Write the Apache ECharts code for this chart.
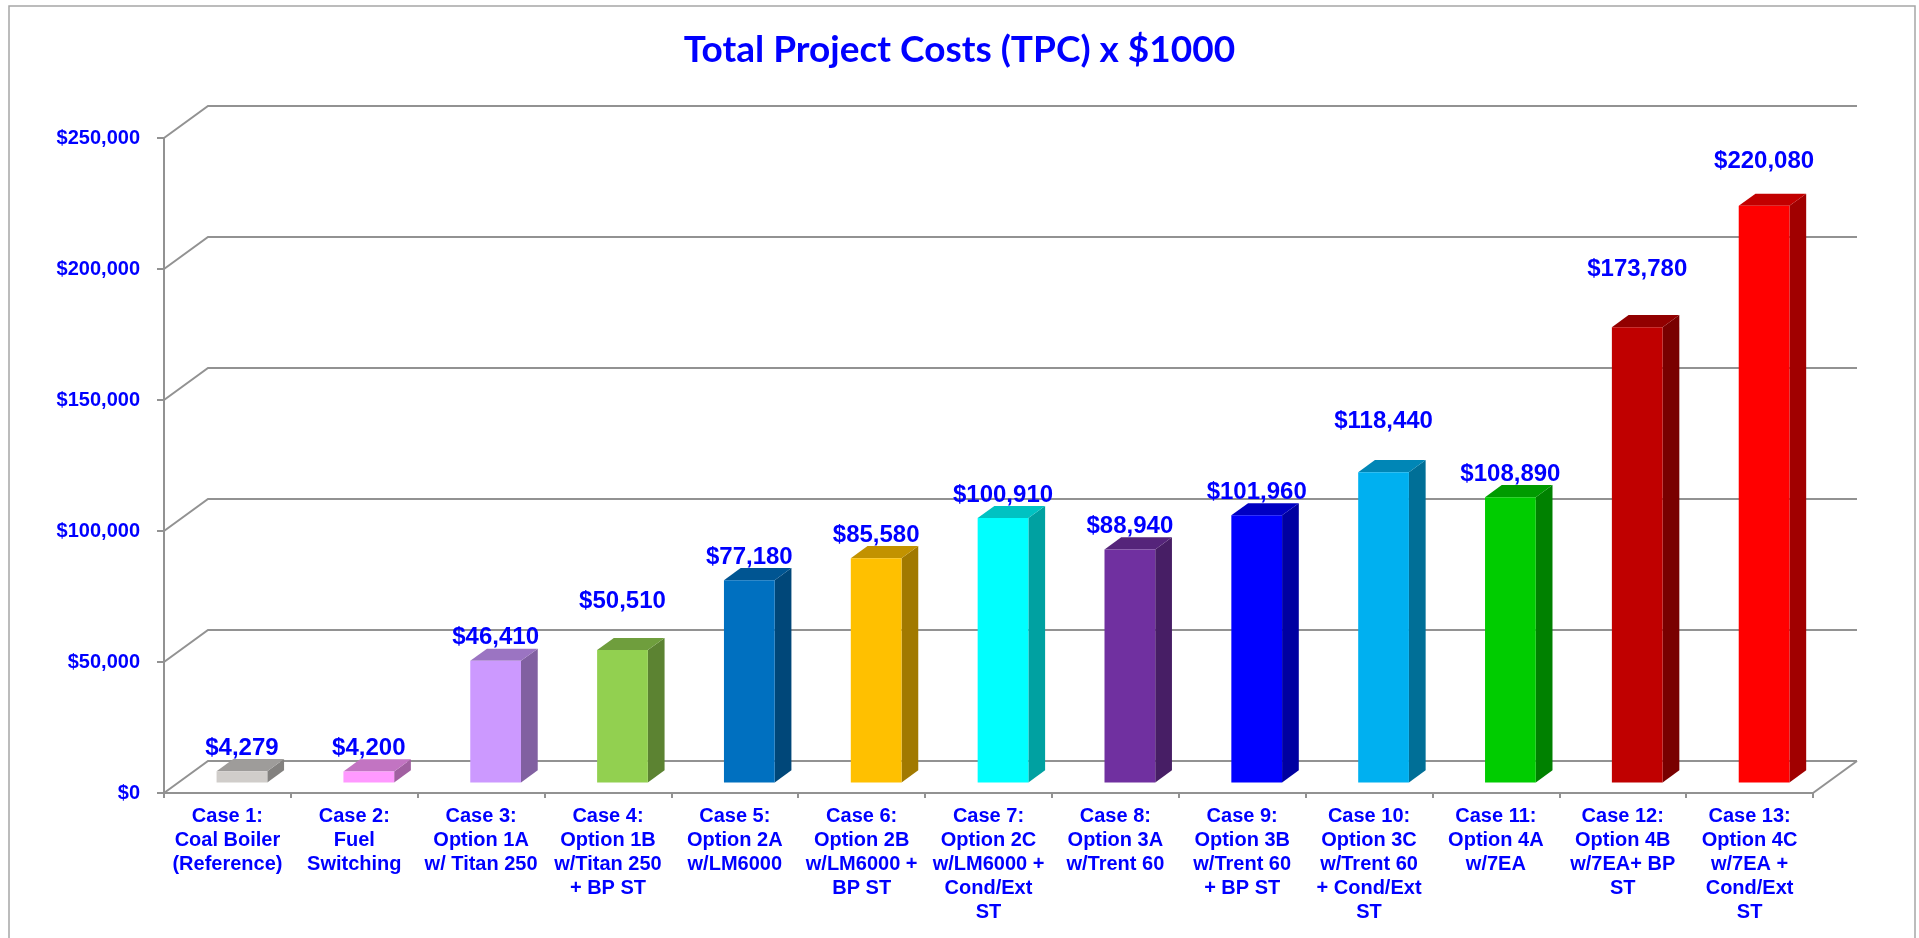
<!DOCTYPE html>
<html><head><meta charset="utf-8">
<script src="https://cdn.jsdelivr.net/npm/echarts@6/dist/echarts.min.js"></script>
<style>html,body{margin:0;padding:0;background:#fff}#c{width:1919px;height:938px}</style>
</head><body><div id="c"></div>
<script>
// ---------- data ----------
const categories = [
  'Case 1:\nCoal Boiler\n(Reference)',
  'Case 2:\nFuel\nSwitching',
  'Case 3:\nOption 1A\nw/ Titan 250',
  'Case 4:\nOption 1B\nw/Titan 250\n+ BP ST',
  'Case 5:\nOption 2A\nw/LM6000',
  'Case 6:\nOption 2B\nw/LM6000 +\nBP ST',
  'Case 7:\nOption 2C\nw/LM6000 +\nCond/Ext\nST',
  'Case 8:\nOption 3A\nw/Trent 60',
  'Case 9:\nOption 3B\nw/Trent 60\n+ BP ST',
  'Case 10:\nOption 3C\nw/Trent 60\n+ Cond/Ext\nST',
  'Case 11:\nOption 4A\nw/7EA',
  'Case 12:\nOption 4B\nw/7EA+ BP\nST',
  'Case 13:\nOption 4C\nw/7EA +\nCond/Ext\nST'
];
const tpcValues = [4279, 4200, 46410, 50510, 77180, 85580, 100910, 88940, 101960, 118440, 108890, 173780, 220080];
const yTicks = [0, 50000, 100000, 150000, 200000, 250000];
const titleText = 'Total Project Costs (TPC) x $1000';

// ---------- style ----------
const barColors = ['#D0CDCA','#FF99FF','#CC99FF','#92D050','#0070C0','#FFC000','#00FFFF','#7030A0','#0000FF','#00B0F0','#00CC00','#C00000','#FF0000'];
const labelLift = {3: 26, 9: 28, 11: 35, 12: 21}; // manual label nudges seen in the original
const BLUE = '#0000FF';
const GRID_COLOR = '#929292';
const DX = 44, DY = -32;           // floor depth in pixels
const BAR_OFF = 0.33, BAR_DEPTH = 0.38, BAR_W = 0.4;
const FONT = 'Liberation Sans, Arial, sans-serif';

function shade(hex, f) {
  const n = parseInt(hex.slice(1), 16);
  const r = Math.round(((n >> 16) & 255) * f), g = Math.round(((n >> 8) & 255) * f), b = Math.round((n & 255) * f);
  return 'rgb(' + r + ',' + g + ',' + b + ')';
}
const fmt = v => '$' + v.toLocaleString('en-US');

const chart = echarts.init(document.getElementById('c'), null, {renderer: 'canvas'});

const option = {
  backgroundColor: '#ffffff',
  animation: false,
  title: {
    text: titleText, left: 'center', top: 27,
    textStyle: {color: BLUE, fontSize: 37, fontWeight: 'bold', fontFamily: 'Lato, sans-serif'}
  },
  graphic: [{
    type: 'rect', z: -10, silent: true,
    shape: {x: 9, y: 6, width: 1906, height: 945},
    style: {fill: 'none', stroke: '#A6A6A6', lineWidth: 1.5}
  }],
  grid: {left: 164, right: 106, top: 138, bottom: 145, containLabel: false},
  xAxis: {
    type: 'category', data: categories, boundaryGap: true,
    axisLine: {show: true, lineStyle: {color: GRID_COLOR, width: 2}},
    axisTick: {show: true, length: 5, lineStyle: {color: GRID_COLOR, width: 2}},
    axisLabel: {interval: 0, color: BLUE, fontWeight: 'bold', fontSize: 20, lineHeight: 24, margin: 11, fontFamily: FONT},
    splitLine: {show: false}
  },
  yAxis: {
    type: 'value', min: 0, max: 250000, interval: 50000,
    axisLine: {show: true, lineStyle: {color: GRID_COLOR, width: 2}},
    axisTick: {show: true, length: 7, lineStyle: {color: GRID_COLOR, width: 2}},
    axisLabel: {color: BLUE, fontWeight: 'bold', fontSize: 20, margin: 24, fontFamily: FONT, formatter: fmt},
    splitLine: {show: false}
  },
  series: [
    {
      type: 'custom', name: 'walls', z: 1, clip: false, silent: true,
      data: yTicks.map(v => [0, v]),
      encode: {x: 0, y: 1},
      renderItem: function (params, api) {
        const cs = params.coordSys;
        const y = api.coord([0, api.value(1)])[1];
        const children = [{
          type: 'polyline',
          shape: {points: [[cs.x, y], [cs.x + DX, y + DY], [cs.x + cs.width + DX, y + DY]]},
          style: {stroke: GRID_COLOR, lineWidth: 2, fill: 'none'}
        }];
        if (api.value(1) === 0) {
          children.push({
            type: 'line',
            shape: {x1: cs.x + cs.width, y1: y, x2: cs.x + cs.width + DX, y2: y + DY},
            style: {stroke: GRID_COLOR, lineWidth: 2}
          });
        }
        return {type: 'group', children: children};
      }
    },
    {
      type: 'custom', name: 'TPC', z: 5, clip: false,
      data: tpcValues.map((v, i) => [i, v]),
      encode: {x: 0, y: 1},
      renderItem: function (params, api) {
        const i = api.value(0), v = api.value(1);
        const c = api.coord([i, v]);
        const base = api.coord([i, 0]);
        const bw = api.size([1, 0])[0] * BAR_W;
        const ox = DX * BAR_OFF, oy = DY * BAR_OFF;
        const bdx = DX * BAR_DEPTH, bdy = DY * BAR_DEPTH;
        const x0 = c[0] + ox - bw / 2, x1 = x0 + bw;
        const yt = c[1] + oy, yb = base[1] + oy;
        const col = barColors[i];
        const lift = labelLift[i] || 0;
        return {
          type: 'group',
          children: [
            {type: 'polygon', shape: {points: [[x1, yt], [x1, yb], [x1 + bdx, yb + bdy], [x1 + bdx, yt + bdy]]},
             style: {fill: shade(col, 0.63)}},
            {type: 'polygon', shape: {points: [[x0, yt], [x1, yt], [x1 + bdx, yt + bdy], [x0 + bdx, yt + bdy]]},
             style: {fill: shade(col, 0.76)}},
            {type: 'rect', shape: {x: x0, y: yt, width: bw, height: yb - yt},
             style: {fill: col}},
            {type: 'text', z2: 10,
             style: {text: fmt(v), x: x0 + bw / 2, y: yt + bdy - 11 - lift,
                     align: 'center', verticalAlign: 'middle',
                     fill: BLUE, font: 'bold 24px ' + FONT}}
          ]
        };
      }
    }
  ]
};
chart.setOption(option);
</script>
</body></html>
